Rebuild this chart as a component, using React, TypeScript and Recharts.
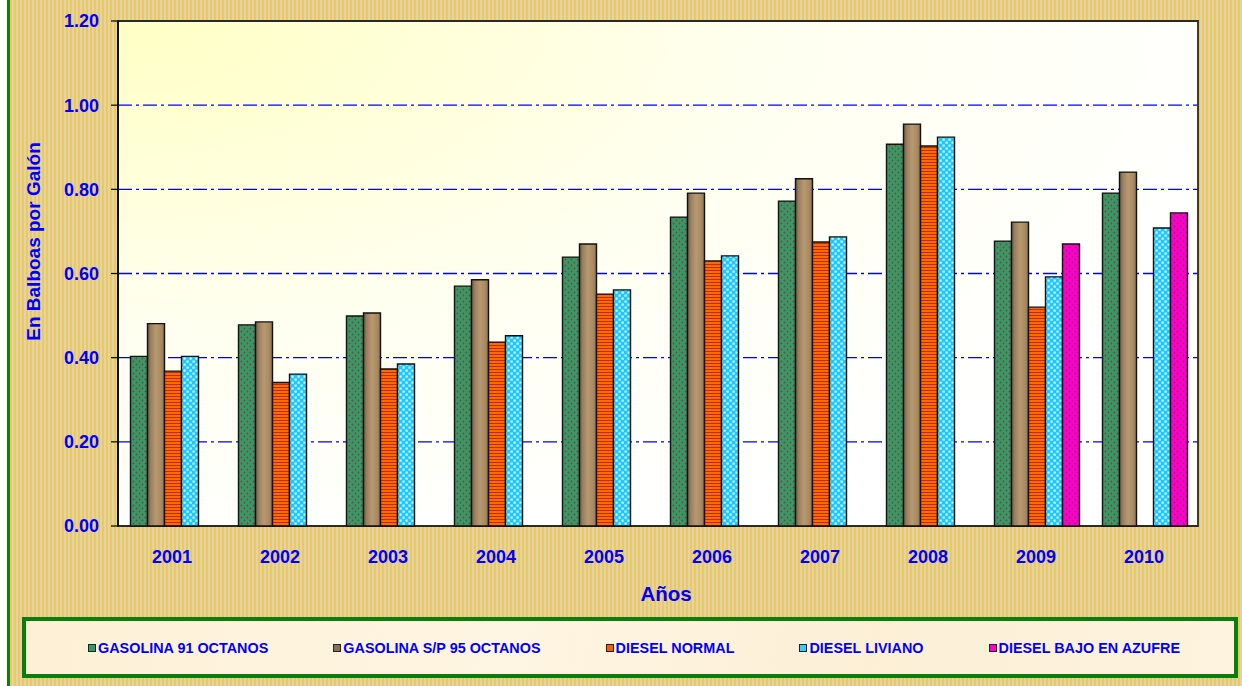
import React from 'react';
import {
  BarChart, Bar, XAxis, YAxis, CartesianGrid, Legend, ReferenceArea, Label,
} from 'recharts';

const years = ['2001', '2002', '2003', '2004', '2005', '2006', '2007', '2008', '2009', '2010'];
const gasolina91 = [0.403, 0.478, 0.499, 0.570, 0.639, 0.734, 0.772, 0.907, 0.677, 0.791];
const gasolina95 = [0.481, 0.485, 0.506, 0.585, 0.670, 0.791, 0.825, 0.955, 0.722, 0.841];
const dieselNormal = [0.368, 0.341, 0.373, 0.437, 0.551, 0.630, 0.675, 0.903, 0.520, null];
const dieselLiviano = [0.403, 0.361, 0.385, 0.452, 0.561, 0.642, 0.687, 0.924, 0.592, 0.708];
const dieselBajo = [null, null, null, null, null, null, null, null, 0.670, 0.744];
const yTicks = [0, 0.2, 0.4, 0.6, 0.8, 1.0, 1.2];
const gridValues = [0.2, 0.4, 0.6, 0.8, 1.0];
const boundaryTicks = [0, 1, 2, 3, 4, 5, 6, 7, 8, 9, 10];

const seriesNames = [
  'GASOLINA 91 OCTANOS',
  'GASOLINA S/P 95 OCTANOS',
  'DIESEL NORMAL',
  'DIESEL LIVIANO',
  'DIESEL BAJO EN AZUFRE',
];
const seriesKeys = ['g91', 'g95', 'dn', 'dl', 'db'];
const seriesFills = ['url(#patGreen)', 'url(#gradWood)', 'url(#patOrange)', 'url(#patCyan)', 'url(#patMagenta)'];
const legendColors = ['#339966', '#8a7256', '#ff5a00', '#33ccff', '#ff00cc'];

const data = years.map((y, i) => ({
  year: y,
  g91: gasolina91[i],
  g95: gasolina95[i],
  dn: dieselNormal[i],
  dl: dieselLiviano[i],
  db: dieselBajo[i],
}));

const FONT = '"Liberation Sans", Arial, sans-serif';
const BLUE = '#0000ff';

const renderLegend = (props: any) => {
  const payload = [...(props.payload || [])].sort(
    (a: any, b: any) => seriesNames.indexOf(a.value) - seriesNames.indexOf(b.value),
  );
  return (
    <div
      style={{
        boxSizing: 'border-box',
        width: '100%',
        height: '100%',
        border: '4px solid #0a7d0a',
        background: 'linear-gradient(100deg, #fdf0d6 0%, #fef5e2 40%, #fcefd6 70%, #fdf3de 100%)',
        display: 'flex',
        alignItems: 'center',
        paddingLeft: 62,
        gap: 65,
        fontFamily: FONT,
      }}
    >
      {payload.map((p: any) => {
        const idx = seriesNames.indexOf(p.value);
        return (
          <div key={p.value} style={{ display: 'flex', alignItems: 'center' }}>
            <span
              style={{
                display: 'inline-block',
                width: 6,
                height: 6,
                border: '1.5px solid #222',
                background: legendColors[idx],
                marginRight: 2,
              }}
            />
            <span style={{ color: BLUE, fontWeight: 'bold', fontSize: 14.4, whiteSpace: 'nowrap' }}>{p.value}</span>
          </div>
        );
      })}
    </div>
  );
};

const YTitle = (props: any) => {
  const vb = props.viewBox || { x: 0, y: 0, width: 0, height: 0 };
  const cx = vb.x + 40;
  const cy = vb.y + vb.height / 2 - 32;
  return (
    <text
      x={cx}
      y={cy}
      transform={`rotate(-90 ${cx} ${cy})`}
      textAnchor="middle"
      fill={BLUE}
      fontWeight="bold"
      fontSize={19}
      fontFamily={FONT}
    >
      En Balboas por Galón
    </text>
  );
};

export default function App() {
  return (
    <div style={{ position: 'absolute', left: 0, top: 0, width: 1242, height: 686, background: '#ffffff', overflow: 'hidden' }}>
      <div
        style={{
          position: 'absolute',
          left: 7,
          top: 0,
          width: 1235,
          height: 686,
          boxSizing: 'border-box',
          borderLeft: '3px solid #0a7d0a',
          background: 'repeating-linear-gradient(90deg, #f5c845 0px, #f5c845 2px, #d9d3c2 2px, #d9d3c2 4px)',
        }}
      />
      <div style={{ position: 'absolute', left: 0, top: 0 }}>
        <BarChart
          width={1242}
          height={686}
          data={data}
          margin={{ top: 21, right: 44, bottom: 80, left: 0 }}
          barCategoryGap={12.5}
          barGap={0}
        >
          <defs>
            <pattern id="patGreen" patternUnits="userSpaceOnUse" width="6" height="6">
              <rect width="6" height="6" fill="#349a66" />
              <circle cx="1.5" cy="1.5" r="0.9" fill="#8e3a3a" />
              <circle cx="4.5" cy="4.5" r="0.9" fill="#8e3a3a" />
            </pattern>
            <linearGradient id="gradWood" x1="0" y1="0" x2="1" y2="0">
              <stop offset="0" stopColor="#6d5943" />
              <stop offset="0.2" stopColor="#9c8060" />
              <stop offset="0.5" stopColor="#b8996f" />
              <stop offset="0.8" stopColor="#a88b64" />
              <stop offset="1" stopColor="#8c7252" />
            </linearGradient>
            <pattern id="patOrange" patternUnits="userSpaceOnUse" width="4" height="3">
              <rect width="4" height="3" fill="#ff6a00" />
              <rect width="4" height="1" fill="#b82e00" />
            </pattern>
            <pattern id="patCyan" patternUnits="userSpaceOnUse" width="6" height="6">
              <rect width="6" height="6" fill="#1ec8fb" />
              <rect x="0.5" y="0.5" width="2.2" height="2.2" fill="#d6f6ff" />
              <rect x="3.5" y="3.5" width="2.2" height="2.2" fill="#d6f6ff" />
            </pattern>
            <pattern id="patMagenta" patternUnits="userSpaceOnUse" width="6" height="6">
              <rect width="6" height="6" fill="#ff00cc" />
              <circle cx="1.5" cy="1.5" r="0.9" fill="#8e2a6a" />
              <circle cx="4.5" cy="4.5" r="0.9" fill="#8e2a6a" />
            </pattern>
            <radialGradient id="plotBg" cx="0" cy="0" r="1.1">
              <stop offset="0" stopColor="#ffffc4" />
              <stop offset="0.55" stopColor="#fffff0" />
              <stop offset="1" stopColor="#ffffff" />
            </radialGradient>
          </defs>
          <CartesianGrid
            vertical={false}
            horizontalValues={gridValues}
            stroke={BLUE}
            strokeWidth={1.3}
            strokeDasharray="14 4 3 4"
            fill="url(#plotBg)"
            fillOpacity={1}
          />
          <XAxis
            xAxisId="bounds"
            type="number"
            domain={[0, 10]}
            allowDataOverflow
            ticks={boundaryTicks}
            tick={false}
            tickSize={6}
            height={0}
            axisLine={{ stroke: '#000', strokeWidth: 1.5 }}
            tickLine={{ stroke: '#000', strokeWidth: 1.2 }}
          />
          <XAxis
            dataKey="year"
            height={80}
            axisLine={false}
            tickLine={false}
            tickSize={0}
            tickMargin={24}
            tick={{ fill: BLUE, fontWeight: 'bold', fontSize: 18, fontFamily: FONT }}
          >
            <Label
              value="Años"
              position="insideBottom"
              offset={5}
              dx={8}
              fill={BLUE}
              fontWeight="bold"
              fontSize={20.5}
              fontFamily={FONT}
            />
          </XAxis>
          <YAxis
            width={118}
            domain={[0, 1.2]}
            ticks={yTicks}
            tickFormatter={(v: number) => v.toFixed(2)}
            tickSize={7}
            tickMargin={12}
            axisLine={{ stroke: '#000', strokeWidth: 1.5 }}
            tickLine={{ stroke: '#000', strokeWidth: 1.2 }}
            tick={{ fill: BLUE, fontWeight: 'bold', fontSize: 18, fontFamily: FONT }}
          >
            <Label content={<YTitle />} />
          </YAxis>
          <ReferenceArea y1={0} y2={1.2} fill="none" stroke="#2a2a2a" strokeWidth={1.8} ifOverflow="visible" />
          {seriesKeys.map((k, i) => (
            <Bar
              key={k}
              dataKey={k}
              name={seriesNames[i]}
              fill={seriesFills[i]}
              stroke="#111"
              strokeWidth={1.4}
              isAnimationActive={false}
            />
          ))}
          <Legend
            layout="horizontal"
            align="center"
            verticalAlign="middle"
            content={renderLegend}
            wrapperStyle={{ left: 22, top: 617, width: 1216, height: 61, bottom: 'auto', right: 'auto' }}
          />
        </BarChart>
      </div>
    </div>
  );
}
